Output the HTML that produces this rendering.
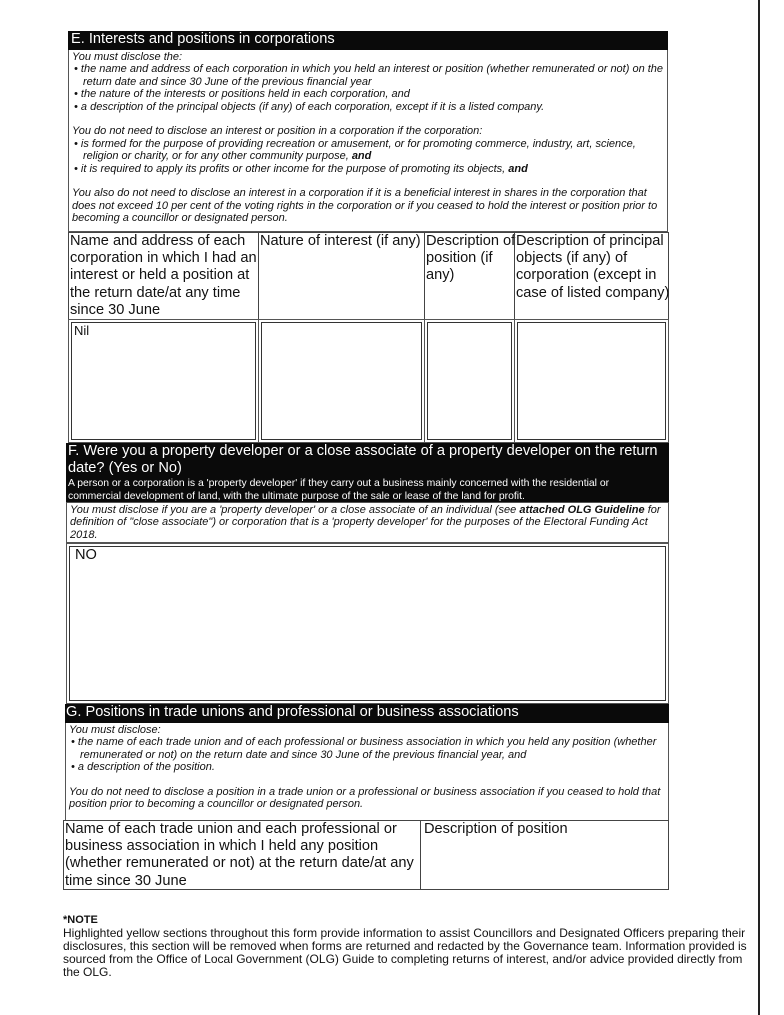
<!DOCTYPE html>
<html><head><meta charset="utf-8"><style>
*{margin:0;padding:0;box-sizing:border-box}
body{width:784px;height:1015px;background:#fff;position:relative;overflow:hidden;font-family:"Liberation Sans",Arial,sans-serif;color:#111}
.a{position:absolute}
.hd{background:#0a0a0a;color:#fff;font-size:14.6px;line-height:17px;padding-left:3px}
.note{font-style:italic;font-size:11px;line-height:12.4px;padding:1px 3px;border:1px solid #555;border-top:none}
.note div{white-space:nowrap}
.b{padding-left:10px;text-indent:-8px}
.th{font-size:14.6px;line-height:17.2px;border:1px solid #444;padding-left:1px;white-space:nowrap}
.cell{border:1px solid #555;padding:2px}
.cell div{border:1.5px solid #333;height:100%;font-size:13px;padding-left:2px}
</style></head><body>
<div class="a" style="left:758px;top:0;width:1.5px;height:1015px;background:#222"></div>

<div class="a hd" style="left:68px;top:31px;width:600px;height:19px">E. Interests and positions in corporations</div>
<div class="a note" style="left:68px;top:50px;width:600px;height:182px">
<div>You must disclose the:</div>
<div class="b">• the name and address of each corporation in which you held an interest or position (whether remunerated or not) on the</div>
<div style="padding-left:11px">return date and since 30 June of the previous financial year</div>
<div class="b">• the nature of the interests or positions held in each corporation, and</div>
<div class="b">• a description of the principal objects (if any) of each corporation, except if it is a listed company.</div>
<div>&nbsp;</div>
<div>You do not need to disclose an interest or position in a corporation if the corporation:</div>
<div class="b">• is formed for the purpose of providing recreation or amusement, or for promoting commerce, industry, art, science,</div>
<div style="padding-left:11px">religion or charity, or for any other community purpose, <b>and</b></div>
<div class="b">• it is required to apply its profits or other income for the purpose of promoting its objects, <b>and</b></div>
<div>&nbsp;</div>
<div>You also do not need to disclose an interest in a corporation if it is a beneficial interest in shares in the corporation that</div>
<div>does not exceed 10 per cent of the voting rights in the corporation or if you ceased to hold the interest or position prior to</div>
<div>becoming a councillor or designated person.</div>
</div>

<div class="a th" style="left:68px;top:232px;width:191px;height:88px">Name and address of each<br>corporation in which I had an<br>interest or held a position at<br>the return date/at any time<br>since 30 June</div>
<div class="a th" style="left:258px;top:232px;width:167px;height:88px">Nature of interest (if any)</div>
<div class="a th" style="left:424px;top:232px;width:91px;height:88px;overflow:visible">Description of<br>position (if<br>any)</div>
<div class="a th" style="left:514px;top:232px;width:155px;height:88px">Description of principal<br>objects (if any) of<br>corporation (except in<br>case of listed company)</div>

<div class="a cell" style="left:68px;top:319px;width:191px;height:124px"><div>Nil</div></div>
<div class="a cell" style="left:258px;top:319px;width:167px;height:124px"><div></div></div>
<div class="a cell" style="left:424px;top:319px;width:91px;height:124px"><div></div></div>
<div class="a cell" style="left:514px;top:319px;width:155px;height:124px"><div></div></div>

<div class="a hd" style="left:66px;top:443px;width:603px;height:59px;padding-left:2px">
<div style="font-size:14.6px;line-height:17px">F. Were you a property developer or a close associate of a property developer on the return date? (Yes or No)</div>
<div style="font-size:10.4px;line-height:12.6px;margin-top:1px;white-space:nowrap">A person or a corporation is a 'property developer' if they carry out a business mainly concerned with the residential or<br>commercial development of land, with the ultimate purpose of the sale or lease of the land for profit.</div>
</div>
<div class="a note" style="left:66px;top:502px;width:603px;height:41px;border-top:1px solid #555">
<div>You must disclose if you are a 'property developer' or a close associate of an individual (see <b>attached OLG Guideline</b> for</div>
<div>definition of "close associate") or corporation that is a 'property developer' for the purposes of the Electoral Funding Act</div>
<div>2018.</div>
</div>
<div class="a cell" style="left:66px;top:543px;width:603px;height:161px"><div style="font-size:14.6px;padding-left:5px;line-height:16px">NO</div></div>

<div class="a hd" style="left:65px;top:704px;width:604px;height:19px;padding-left:1px">G. Positions in trade unions and professional or business associations</div>
<div class="a note" style="left:65px;top:723px;width:604px;height:98px">
<div>You must disclose:</div>
<div class="b">• the name of each trade union and of each professional or business association in which you held any position (whether</div>
<div style="padding-left:11px">remunerated or not) on the return date and since 30 June of the previous financial year, and</div>
<div class="b">• a description of the position.</div>
<div>&nbsp;</div>
<div>You do not need to disclose a position in a trade union or a professional or business association if you ceased to hold that</div>
<div>position prior to becoming a councillor or designated person.</div>
</div>
<div class="a th" style="left:63px;top:820px;width:358px;height:70px">Name of each trade union and each professional or<br>business association in which I held any position<br>(whether remunerated or not) at the return date/at any<br>time since 30 June</div>
<div class="a th" style="left:420px;top:820px;width:249px;height:70px;padding-left:3px">Description of position</div>

<div class="a" style="left:63px;top:914px;font-size:11px;font-weight:bold">*NOTE</div>
<div class="a" style="left:63px;top:927px;width:700px;font-size:12px;line-height:13px;white-space:nowrap">Highlighted yellow sections throughout this form provide information to assist Councillors and Designated Officers preparing their<br>disclosures, this section will be removed when forms are returned and redacted by the Governance team. Information provided is<br>sourced from the Office of Local Government (OLG) Guide to completing returns of interest, and/or advice provided directly from<br>the OLG.</div>
</body></html>
